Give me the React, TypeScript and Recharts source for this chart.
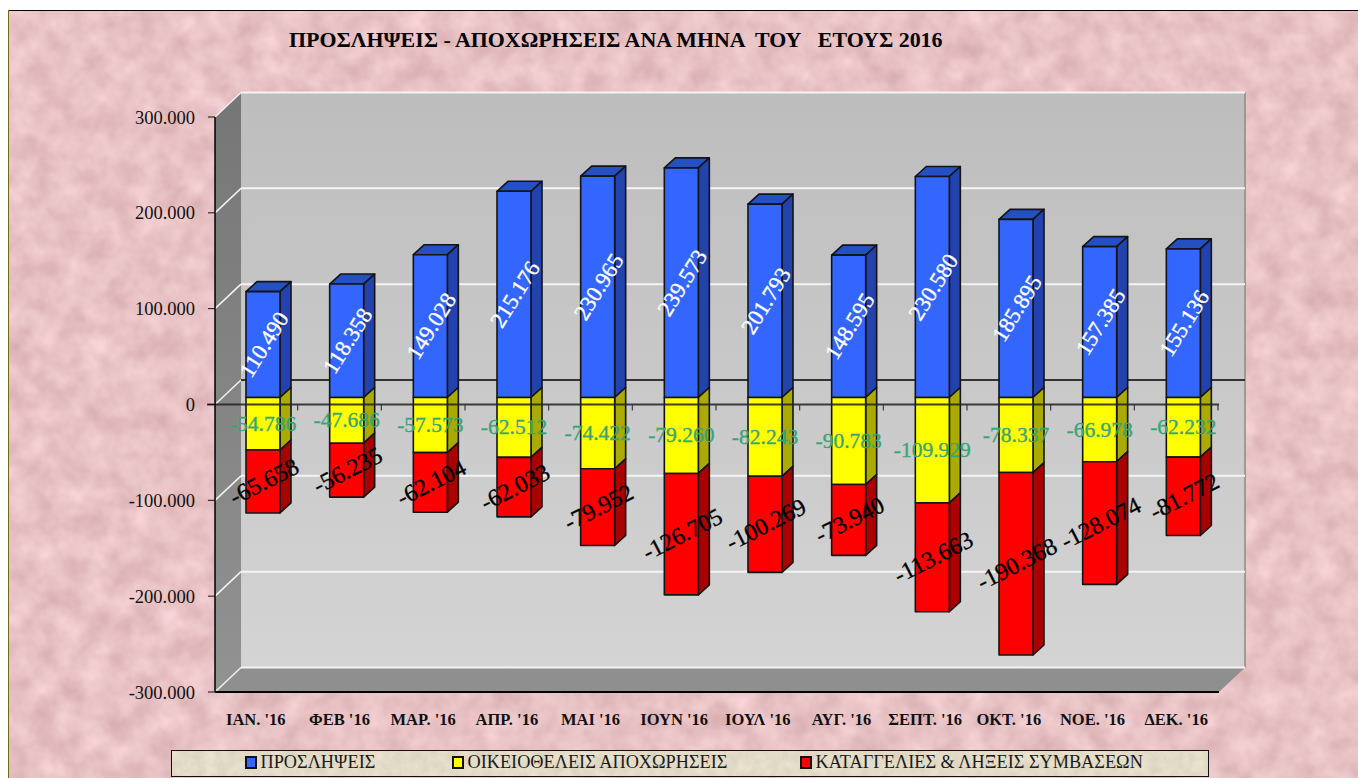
import { BarChart, Bar, XAxis, YAxis, CartesianGrid, Legend, LabelList, ReferenceArea, ReferenceLine } from 'recharts';

const months = ["ΙΑΝ. '16", "ΦΕΒ '16", "ΜΑΡ. '16", "ΑΠΡ. '16", "ΜΑΙ '16", "ΙΟΥΝ '16", "ΙΟΥΛ '16", "ΑΥΓ. '16", "ΣΕΠΤ. '16", "ΟΚΤ. '16", "ΝΟΕ. '16", "ΔΕΚ. '16"];
const hires = [110490, 118358, 149028, 215176, 230965, 239573, 201793, 148595, 230580, 185895, 157385, 155136];
const voluntary = [-54786, -47686, -57573, -62512, -74422, -79260, -82243, -90783, -109929, -78337, -66978, -62232];
const terminated = [-65658, -56235, -62104, -62033, -79952, -126705, -100269, -73940, -113663, -190368, -128074, -81772];
const yTicks = [-300000, -200000, -100000, 0, 100000, 200000, 300000];
const seriesNames = ['ΠΡΟΣΛΗΨΕΙΣ', 'ΟΙΚΕΙΟΘΕΛΕΙΣ ΑΠΟΧΩΡΗΣΕΙΣ', 'ΚΑΤΑΓΓΕΛΙΕΣ & ΛΗΞΕΙΣ ΣΥΜΒΑΣΕΩΝ'];

const chartData = months.map((month, i) => ({
    month,
    hires: hires[i],
    voluntary: voluntary[i],
    terminated: terminated[i],
}));

const FONT = '"Liberation Serif", serif';
const DEPTH_X = 26;
const DEPTH_Y = 24.5;
// bars stand a little behind the front plane of the axis
const BAR_SHIFT_X = 6;
const BAR_SHIFT_Y = 7;
const BAR_DX = 11;
const BAR_DY = 10;

const formatNumber = (v: number) => {
    const sign = v < 0 ? '-' : '';
    return sign + String(Math.abs(v)).replace(/\B(?=(\d{3})+$)/g, '.');
};

// Side and top faces of each series
const shades: Record<string, { side: string; top: string }> = {
    '#3366FF': { side: '#2242AE', top: '#2450C4' },
    '#FFFF00': { side: '#AAAA00', top: '#CCCC00' },
    '#FF0000': { side: '#AA0000', top: '#CC0000' },
};

const Box3D = ({ x, y, width, height, fill, withTop }: any) => {
    const top = Math.min(y, y + height) - BAR_SHIFT_Y;
    const h = Math.abs(height);
    const left = x + BAR_SHIFT_X;
    const right = left + width;
    const { side, top: topColor } = shades[fill];
    return (
        <g stroke="#141414" strokeWidth={1.6} strokeLinejoin="round">
            {withTop && (
                <polygon
                    points={`${left},${top} ${left + BAR_DX},${top - BAR_DY} ${right + BAR_DX},${top - BAR_DY} ${right},${top}`}
                    fill={topColor}
                />
            )}
            <polygon
                points={`${right},${top} ${right + BAR_DX},${top - BAR_DY} ${right + BAR_DX},${top + h - BAR_DY} ${right},${top + h}`}
                fill={side}
            />
            <rect x={left} y={top} width={width} height={h} fill={fill} />
        </g>
    );
};

const barLabel = (color: string, angle: number, size: number, nudge: number) => (props: any) => {
    const { x, y, width, height, value } = props;
    const cx = x + width / 2 + BAR_SHIFT_X + nudge;
    const cy = y + height / 2 - BAR_SHIFT_Y;
    return (
        <text
            x={cx}
            y={cy}
            fill={color}
            stroke={color}
            strokeWidth={0.35}
            fontFamily={FONT}
            fontSize={size}
            textAnchor="middle"
            dominantBaseline="central"
            transform={angle ? `rotate(${angle} ${cx} ${cy})` : undefined}
        >
            {formatNumber(value)}
        </text>
    );
};

// back wall, left wall and floor of the 3D box
const Walls = ({ x, y, width, height }: any) => (
    <g>
        <rect x={x + DEPTH_X} y={y - DEPTH_Y} width={width} height={height} fill="url(#backWall)" />
        <line x1={x + width + DEPTH_X} y1={y - DEPTH_Y} x2={x + width + DEPTH_X} y2={y + height - DEPTH_Y} stroke="#8a8a8a" strokeWidth={1.5} />
        <polygon
            points={`${x},${y} ${x + DEPTH_X},${y - DEPTH_Y} ${x + DEPTH_X},${y + height - DEPTH_Y} ${x},${y + height}`}
            fill="url(#sideWall)"
        />
        <polygon
            points={`${x},${y + height} ${x + DEPTH_X},${y + height - DEPTH_Y} ${x + width + DEPTH_X},${y + height - DEPTH_Y} ${x + width},${y + height}`}
            fill="#8f8f8f"
        />
    </g>
);

const gridLine = (props: any) => {
    const { x1, y1, x2, index } = props;
    const isZero = index === 3;
    return (
        <g key={`grid-${index}`} fill="none">
            <line x1={x1} y1={y1} x2={x1 + DEPTH_X} y2={y1 - DEPTH_Y} stroke="#f2f2f2" strokeWidth={1.5} />
            <line
                x1={x1 + DEPTH_X}
                y1={y1 - DEPTH_Y}
                x2={x2 + DEPTH_X}
                y2={y1 - DEPTH_Y}
                stroke={isZero ? '#333333' : '#f4f4f4'}
                strokeWidth={2}
            />
        </g>
    );
};

const ZeroAxis = ({ x1, y1, x2 }: any) => {
    const step = (x2 - x1) / months.length;
    return (
        <g stroke="#222222" opacity={0.85}>
            <line x1={x1 - 8} y1={y1} x2={x2} y2={y1} strokeWidth={2} />
            {months.map((m, i) => (
                <line key={m} x1={x1 + step * (i + 1) - 1} y1={y1} x2={x1 + step * (i + 1) - 1} y2={y1 + 6} strokeWidth={1.2} />
            ))}
        </g>
    );
};

const legendOffsets = [73, 280, 628];

const LegendBox = ({ payload }: any) => {
    const items = [...(payload || [])].sort((a: any, b: any) => seriesNames.indexOf(a.value) - seriesNames.indexOf(b.value));
    return (
        <div style={{ position: 'relative', width: 1038, height: 27, border: '1px solid #111', boxSizing: 'border-box', overflow: 'hidden' }}>
            <svg width={1038} height={27} style={{ position: 'absolute', left: 0, top: 0 }}>
                <filter id="beige" x="0" y="0" width="100%" height="100%" colorInterpolationFilters="sRGB">
                    <feTurbulence type="fractalNoise" baseFrequency="0.09" numOctaves={3} seed={4} />
                    <feColorMatrix values="0.1 0 0 0 0.84  0.1 0 0 0 0.81  0.1 0 0 0 0.73  0 0 0 0 1" />
                </filter>
                <rect width={1038} height={27} filter="url(#beige)" />
            </svg>
            {items.map((item: any, i: number) => (
                <div
                    key={item.value}
                    style={{ position: 'absolute', left: legendOffsets[i], top: -1, height: 25, display: 'flex', alignItems: 'center', whiteSpace: 'nowrap' }}
                >
                    <span style={{ width: 8, height: 9, background: item.color, border: '2px solid #111', marginRight: 3.5 }} />
                    <span style={{ fontFamily: FONT, fontSize: 18.25, color: '#1a1a1a' }}>{item.value}</span>
                </div>
            ))}
        </div>
    );
};

export default function App() {
    return (
        <div style={{ position: 'absolute', left: 8, top: 10, width: 1350, height: 768, overflow: 'hidden' }}>
            <svg width={1350} height={768} style={{ position: 'absolute', left: 0, top: 0 }}>
                <filter id="paper" x="0" y="0" width="100%" height="100%" colorInterpolationFilters="sRGB">
                    <feTurbulence type="fractalNoise" baseFrequency="0.04" numOctaves={3} seed={7} />
                    <feColorMatrix values="0.16 0 0 0 0.83  0.2 0 0 0 0.66  0.2 0 0 0 0.67  0 0 0 0 1" />
                </filter>
                <rect width={1350} height={768} filter="url(#paper)" />
                <line x1={0} y1={0.5} x2={1350} y2={0.5} stroke="#000" />
                <line x1={0.5} y1={0} x2={0.5} y2={768} stroke="#6b6b1e" />
            </svg>
            <div style={{ position: 'absolute', left: 0, top: 0 }}>
                <BarChart
                    width={1350}
                    height={768}
                    data={chartData}
                    stackOffset="sign"
                    barSize={34}
                    margin={{ top: 107, right: 139, bottom: 56, left: 137 }}
                >
                    <defs>
                        <linearGradient id="backWall" x1="0" y1="0" x2="0" y2="1">
                            <stop offset="0" stopColor="#bdbdbd" />
                            <stop offset="1" stopColor="#d4d4d4" />
                        </linearGradient>
                        <linearGradient id="sideWall" x1="0" y1="0" x2="0" y2="1">
                            <stop offset="0" stopColor="#767676" />
                            <stop offset="1" stopColor="#929292" />
                        </linearGradient>
                    </defs>
                    <text x={281} y={37} fontFamily={FONT} fontWeight="bold" fontSize={21.9} fill="#000" style={{ whiteSpace: 'pre' }}>
                        ΠΡΟΣΛΗΨΕΙΣ - ΑΠΟΧΩΡΗΣΕΙΣ ΑΝΑ ΜΗΝΑ  ΤΟΥ   ΕΤΟΥΣ 2016
                    </text>
                    <ReferenceArea y1={-300000} y2={300000} shape={Walls} stroke="none" zIndex={-300} />
                    <CartesianGrid horizontal={gridLine} vertical={false} zIndex={-200} />
                    <XAxis
                        dataKey="month"
                        height={30}
                        tickLine={false}
                        axisLine={{ stroke: '#000', strokeWidth: 2 }}
                        interval={0}
                        tickMargin={15}
                        dx={-1}
                        tick={{ fontFamily: FONT, fontWeight: 'bold', fontSize: 16.5, fill: '#111' }}
                    />
                    <YAxis
                        width={70}
                        domain={[-300000, 300000]}
                        ticks={yTicks}
                        tickFormatter={formatNumber}
                        tickSize={7}
                        tickMargin={13}
                        tickLine={{ stroke: '#111' }}
                        axisLine={{ stroke: '#000', strokeWidth: 1.5 }}
                        tick={{ fontFamily: FONT, fontSize: 18.5, fill: '#111' }}
                    />
                    <Legend
                        layout="horizontal"
                        verticalAlign="middle"
                        align="center"
                        wrapperStyle={{ position: 'absolute', left: 163, top: 740, width: 1038, height: 27 }}
                        content={LegendBox}
                    />
                    <Bar
                        dataKey="hires"
                        name={seriesNames[0]}
                        stackId="a"
                        fill="#3366FF"
                        isAnimationActive={false}
                        shape={(p: any) => <Box3D {...p} withTop />}
                    >
                        <LabelList dataKey="hires" content={barLabel('#ffffff', -58, 22.5, 1)} />
                    </Bar>
                    <Bar
                        dataKey="voluntary"
                        name={seriesNames[1]}
                        stackId="a"
                        fill="#FFFF00"
                        isAnimationActive={false}
                        shape={(p: any) => <Box3D {...p} />}
                    >
                        <LabelList dataKey="voluntary" content={barLabel('#38a576', 0, 21.5, 0)} />
                    </Bar>
                    <Bar
                        dataKey="terminated"
                        name={seriesNames[2]}
                        stackId="a"
                        fill="#FF0000"
                        isAnimationActive={false}
                        shape={(p: any) => <Box3D {...p} />}
                    >
                        <LabelList dataKey="terminated" content={barLabel('#000000', -27, 24, 1)} />
                    </Bar>
                    {/* the front zero line runs over the bars */}
                    <ReferenceLine y={0} shape={ZeroAxis} zIndex={350} />
                </BarChart>
            </div>
        </div>
    );
}
